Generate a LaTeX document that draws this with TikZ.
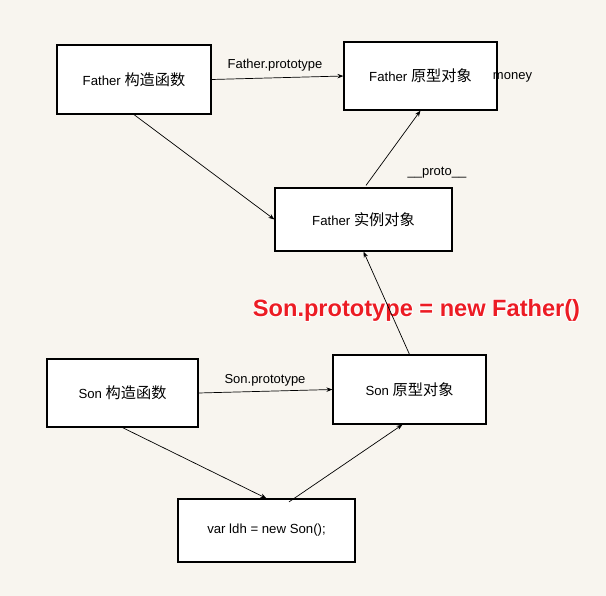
\documentclass[tikz,border=0pt]{standalone}
\usepackage{fontspec}
\setmainfont{Liberation Sans}
\newfontfamily\cjk[Scale=1.15]{Noto Sans CJK SC}
\newfontfamily\halofont[FakeBold=8]{Liberation Sans Bold}
\newfontfamily\redfont{Liberation Sans Bold}
\usetikzlibrary{arrows.meta,calc}
\definecolor{bgc}{RGB}{248,245,239}
\definecolor{redtxt}{RGB}{236,28,36}
\tikzset{
  box/.style={draw=black, line width=1.2pt, fill=white, inner sep=0pt, font=\fontsize{13.2}{15}\selectfont},
  conn/.style={draw=black, line width=0.7pt, -{Stealth[length=6pt,width=4.5pt]}},
  lbl/.style={font=\fontsize{13}{15}\selectfont, inner sep=0pt},
}
\begin{document}
\begin{tikzpicture}[x=1pt,y=-1pt]
\fill[bgc] (0,0) rectangle (606,596);
\useasboundingbox (0,0) rectangle (606,596);
\node[box, minimum width=154pt, minimum height=69pt] (fc) at (134,79.5) {Father {\cjk 构造函数}};
\node[box, minimum width=153pt, minimum height=68pt] (fp) at (420.5,76) {Father {\cjk 原型对象}};
\node[box, minimum width=177pt, minimum height=63pt] (fi) at (363.5,219.5) {Father {\cjk 实例对象}};
\node[box, minimum width=151pt, minimum height=68pt] (sc) at (122.5,393) {Son {\cjk 构造函数}};
\node[box, minimum width=153pt, minimum height=69pt] (sp) at (409.5,389.5) {Son {\cjk 原型对象}};
\node[box, minimum width=177pt, minimum height=63pt] (v) at (266.5,530.5) {var ldh = new Son();};
\node[lbl] (lfp) at (275,65.5) {Father.prototype};
\node[lbl] (lsp) at (265,380) {Son.prototype};
\node[lbl] (money) at (512.5,77) {money};
\node[lbl] (proto) at (437,173) {\_\_proto\_\_};
\node[font=\fontsize{23.6}{26}\halofont, text=white, inner sep=0pt] (halo) at (416.5,310) {Son.prototype = new Father()};
\node[font=\fontsize{23.6}{26}\redfont, text=redtxt, inner sep=0pt] (red) at (416.5,310) {Son.prototype = new Father()};
\draw[conn] (fc.east) -- (fp.west);
\draw[conn] (fc.south) -- (fi.west);
\draw[conn] ($(fi.north)+(2.5,-2)$) -- (fp.south);
\draw[conn] (sp.north) -- (fi.south);
\draw[conn] (sc.east) -- (sp.west);
\draw[conn] (sc.south) -- (v.north);
\draw[conn] ($(v.north)+(22.5,3.5)$) -- ($(sp.south)+(-7,0)$);
\end{tikzpicture}
\end{document}
